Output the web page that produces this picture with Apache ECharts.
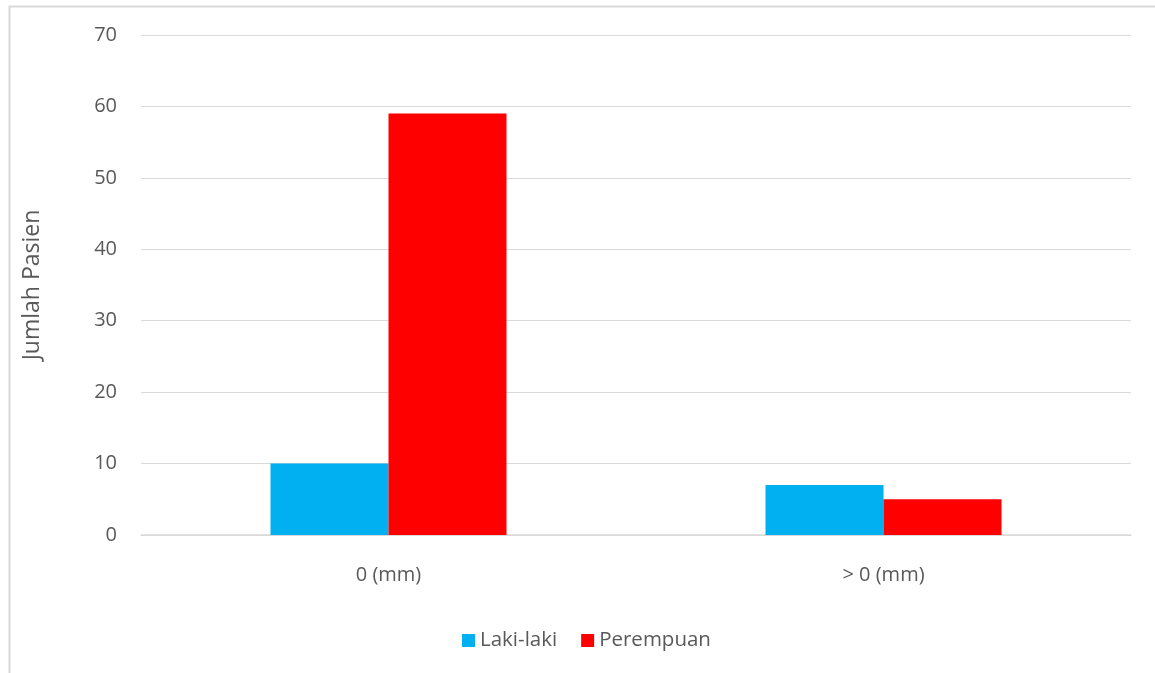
<!DOCTYPE html>
<html>
<head>
<meta charset="utf-8">
<script src="https://cdn.jsdelivr.net/npm/echarts@6/dist/echarts.min.js"></script>
<style>html,body{margin:0;padding:0;background:#fff;}#c{width:1155px;height:673px;}</style>
</head>
<body>
<div id="c"></div>
<script>
const categories = ['0 (mm)', '> 0 (mm)'];
const lakiLaki = [10, 7];
const perempuan = [59, 5];
const yTicks = { min: 0, max: 70, interval: 10 };

const chart = echarts.init(document.getElementById('c'), null, { renderer: 'canvas' });
const font = '"Open Sans", "Noto Sans", sans-serif';
chart.setOption({
  animation: false,
  backgroundColor: '#ffffff',
  graphic: [{
    type: 'rect', left: 7, top: 4, z: -1,
    shape: { width: 1200, height: 700 },
    style: { fill: 'none', stroke: '#d9d9d9', lineWidth: 2 }
  }],
  grid: { left: 141, right: 24, top: 35, bottom: 138, containLabel: false },
  legend: {
    bottom: 17, left: 457,
    itemWidth: 13, itemHeight: 13, itemGap: 24,
    icon: 'rect',
    textStyle: { color: '#595959', fontSize: 20.5, fontFamily: font },
    data: ['Laki-laki', 'Perempuan']
  },
  xAxis: {
    type: 'category', data: categories,
    axisLine: { lineStyle: { color: '#d9d9d9', width: 1.5 } },
    axisTick: { show: false },
    axisLabel: { color: '#595959', fontSize: 20, fontFamily: font, margin: 30 }
  },
  yAxis: {
    type: 'value', min: yTicks.min, max: yTicks.max, interval: yTicks.interval,
    name: 'Jumlah Pasien', nameLocation: 'middle', nameGap: 97, nameRotate: 90,
    nameTextStyle: { color: '#595959', fontSize: 23, fontFamily: font },
    axisLine: { show: false }, axisTick: { show: false },
    axisLabel: { color: '#595959', fontSize: 20, fontFamily: font, margin: 24 },
    splitLine: { lineStyle: { color: '#d9d9d9', width: 1 } }
  },
  series: [
    { name: 'Laki-laki', type: 'bar', data: lakiLaki, barWidth: 118, barGap: '0%',
      itemStyle: { color: '#00b0f0' } },
    { name: 'Perempuan', type: 'bar', data: perempuan, barWidth: 118, barGap: '0%',
      itemStyle: { color: '#ff0000' } }
  ]
});
</script>
</body>
</html>
